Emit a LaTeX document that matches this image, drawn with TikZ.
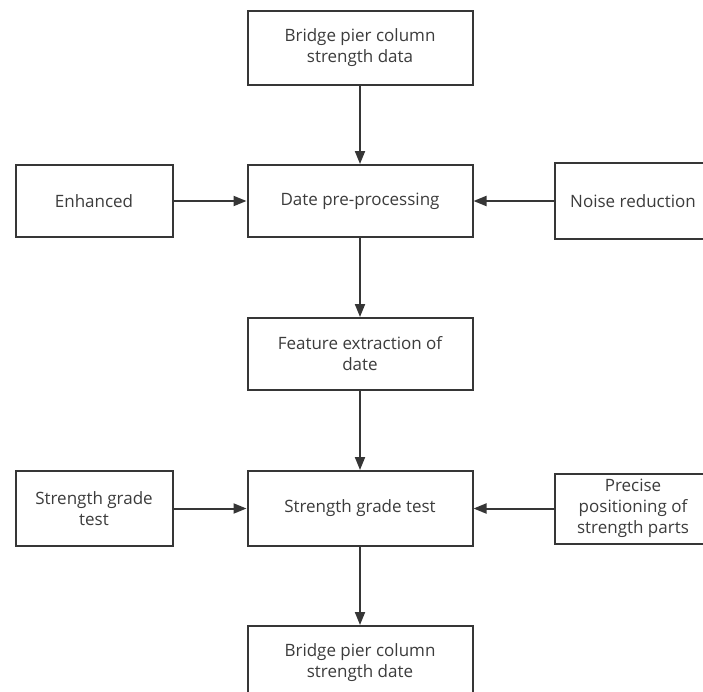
\documentclass[tikz,border=0pt]{standalone}
\usepackage{fontspec}
\setmainfont{Open Sans}
\usepackage{tikz}
\usetikzlibrary{arrows.meta}

\definecolor{linegray}{HTML}{363636}
\definecolor{textgray}{HTML}{3C3C3C}

\tikzset{
    stagebox/.style = {draw=linegray, line width=2pt, fill=white, text=textgray,
        align=center, font=\fontsize{17}{21}\selectfont, inner sep=2pt},
    widebox/.style = {stagebox, minimum width=225pt},
    sidebox/.style = {stagebox, minimum width=157pt},
    flow/.style = {draw=linegray, line width=2pt, -{Triangle[length=13pt,width=10pt]}},
}

\begin{document}
\begin{tikzpicture}[x=1pt,y=-1pt]
    \useasboundingbox (0,0) rectangle (703,691);
    \clip (0,0) rectangle (703,691);
    % middle column
    \node [widebox, minimum height=74pt] (data) at (360,47.5) {Bridge pier column\\strength data};
    \node [widebox, minimum height=72pt] (pre) at (360,201) {Date pre-processing};
    \node [widebox, minimum height=72pt] (feat) at (360,354) {Feature extraction of\\date};
    \node [widebox, minimum height=75pt] (test) at (360,508.5) {Strength grade test};
    \node [widebox, minimum height=74pt] (out) at (360,663) {Bridge pier column\\strength date};
    % side boxes
    \node [sidebox, minimum height=72pt] (enh) at (94,201) {Enhanced};
    \node [sidebox, minimum height=76pt] (noise) at (633,201) {Noise reduction};
    \node [sidebox, minimum height=75pt] (grade) at (94,508.5) {Strength grade\\test};
    \node [sidebox, minimum height=70pt] (prec) at (633,508.5) {Precise\\positioning of\\strength parts};
    \foreach \a/\b in {data/pre, enh/pre, noise/pre, pre/feat, feat/test, grade/test, prec/test, test/out}{
            \draw [flow] (\a) -- (\b);
        }
\end{tikzpicture}
\end{document}
